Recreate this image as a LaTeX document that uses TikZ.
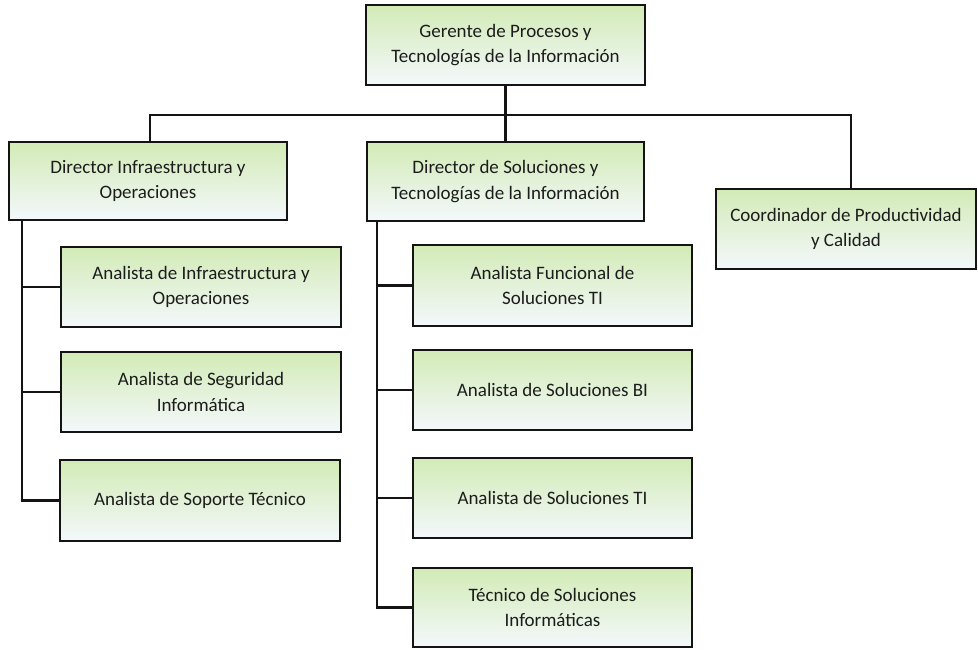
\documentclass[tikz,border=0pt]{standalone}
\usepackage{fontspec}
\setmainfont{Carlito}
\definecolor{boxtop}{RGB}{210,235,182}
\definecolor{boxbot}{RGB}{244,248,252}
\definecolor{txt}{RGB}{28,28,28}
\definecolor{edge}{RGB}{20,20,20}
\begin{document}
\begin{tikzpicture}[x=1pt,y=-1pt,
  orgbox/.style={draw=edge,line width=2.8pt,top color=boxtop,bottom color=boxbot,
    minimum width=#1,minimum height=80pt,inner sep=0pt,align=center,text=txt,
    font=\fontsize{19}{25.5}\selectfont},
  orgbox/.default=279pt,
  link/.style={draw=edge,line width=2.8pt}]
\useasboundingbox (0,0) rectangle (978,649);
% top level
\node[orgbox=279pt] (G) at (505.5,45) {Gerente de Procesos y\\Tecnologías de la Información};
% second level
\node[orgbox=278pt,minimum height=78pt] (DI) at (148,181) {Director Infraestructura y\\Operaciones};
\node[orgbox=277pt,minimum height=79pt] (DS) at (505.5,181.5) {Director de Soluciones y\\Tecnologías de la Información};
\node[orgbox=260pt] (C) at (846,229) {Coordinador de Productividad\\y Calidad};
% infra children
\node[orgbox=280pt] (A1) at (201,287) {Analista de Infraestructura y\\Operaciones};
\node[orgbox=280pt] (A2) at (201,392) {Analista de Seguridad\\Informática};
\node[orgbox=280pt,minimum height=81pt] (A3) at (200,500.5) {Analista de Soporte Técnico};
% soluciones children
\node[orgbox=279pt,minimum height=81pt] (S1) at (552.5,285.5) {Analista Funcional de\\Soluciones TI};
\node[orgbox=279pt] (S2) at (552.5,390) {Analista de Soluciones BI};
\node[orgbox=279pt] (S3) at (552.5,498) {Analista de Soluciones TI};
\node[orgbox=279pt,minimum height=79pt] (S4) at (552.5,607.5) {Técnico de Soluciones\\Informáticas};
% bus and trunks
\coordinate (bus) at (0,115);
\coordinate (tI) at (22,0);
\coordinate (tS) at (377,0);
\draw[link] (G.south) -- (G.south |- bus);
\draw[link] (DI.north -| 150,0) -- (bus -| 150,0) -| (C.north -| 851,0);
\draw[link] (DS.north) -- (DS.north |- bus);
% infra trunk
\draw[link] (DI.south -| tI) |- (A3.west);
\draw[link] (A1.west -| tI) -- (A1.west);
\draw[link] (A2.west -| tI) -- (A2.west);
% soluciones trunk
\draw[link] (DS.south -| tS) |- (S4.west);
\draw[link] (S1.west -| tS) -- (S1.west);
\draw[link] (S2.west -| tS) -- (S2.west);
\draw[link] (S3.west -| tS) -- (S3.west);
\end{tikzpicture}
\end{document}
